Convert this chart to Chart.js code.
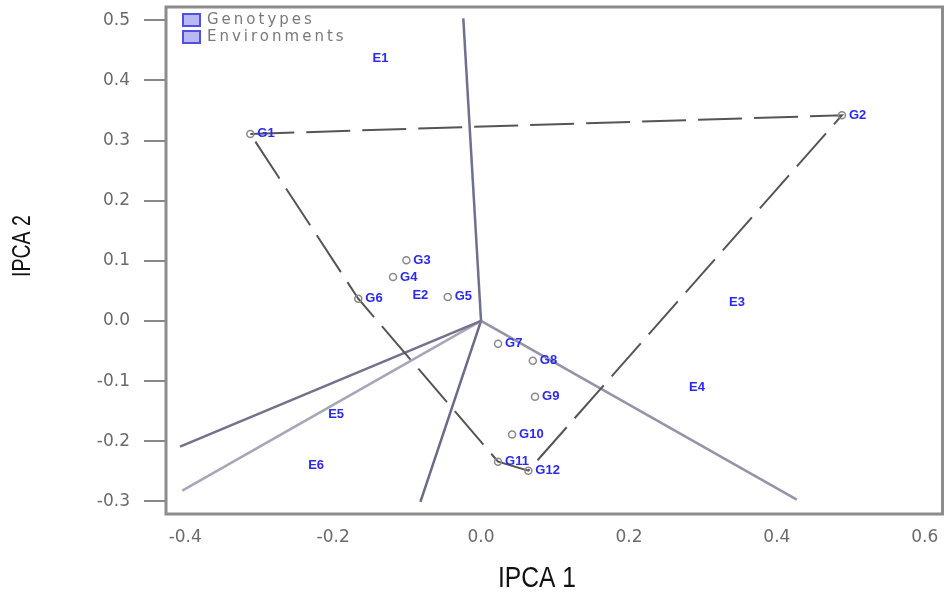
<!DOCTYPE html>
<html>
<head>
<meta charset="utf-8">
<script src="https://cdn.jsdelivr.net/npm/chart.js@4.4.1/dist/chart.umd.min.js"></script>
<style>
    html, body { margin: 0; padding: 0; background: #fff; }
</style>
</head>
<body>
<canvas id="chartOne" width="948" height="598"></canvas>
<script>
// genotype scores (IPCA 1, IPCA 2)
const genoNames = ['G1', 'G2', 'G3', 'G4', 'G5', 'G6', 'G7', 'G8', 'G9', 'G10', 'G11', 'G12'];
const genoX = [-0.312, 0.488, -0.101, -0.119, -0.045, -0.166, 0.023, 0.070, 0.073, 0.042, 0.023, 0.064];
const genoY = [0.311, 0.342, 0.101, 0.073, 0.040, 0.037, -0.038, -0.066, -0.126, -0.189, -0.234, -0.249];

// environment scores
const envNames = ['E1', 'E2', 'E3', 'E4', 'E5', 'E6'];
const envX = [-0.136, -0.082, 0.346, 0.292, -0.196, -0.223];
const envY = [0.437, 0.042, 0.030, -0.110, -0.156, -0.241];

// polygon = genotypes on the hull, in drawing order
const hullIdx = [0, 1, 11, 10, 5, 0];

// rays from the origin, one per polygon side
const rayX = [-0.024, -0.407, -0.404, -0.082, 0.427];
const rayY = [0.503, -0.209, -0.282, -0.301, -0.297];

const xTicks = [-0.4, -0.2, 0.0, 0.2, 0.4, 0.6];
const yTicks = [-0.3, -0.2, -0.1, 0.0, 0.1, 0.2, 0.3, 0.4, 0.5];

const legendNames = ['Genotypes', 'Environments'];
const xTitle = 'IPCA 1';
const yTitle = 'IPCA 2';

const rayColors = ['#6f6f8f', '#72728e', '#a6a6b6', '#6a6a8a', '#9494a8'];
const blue = '#2a2aee';

function pts(xs, ys) {
    return xs.map((x, i) => ({x: x, y: ys[i]}));
}

const rayData = rayX.map((x, i) => ({
    type: 'line',
    label: 'ray' + (i + 1),
    data: [{x: 0, y: 0}, {x: x, y: rayY[i]}],
    borderColor: rayColors[i],
    borderWidth: 2.5,
    pointRadius: 0,
    showLine: true,
    fill: false
}));

// draws the plot frame
const framePlugin = {
    id: 'frame',
    beforeDatasetsDraw(chart) {
        const a = chart.chartArea;
        const ctx = chart.ctx;
        ctx.save();
        ctx.strokeStyle = '#8c8c8c';
        ctx.lineWidth = 3;
        ctx.strokeRect(a.left, a.top, a.right - a.left, a.bottom - a.top);
        ctx.restore();
    }
};

// point labels, legend box and the (narrow) axis titles
const labelPlugin = {
    id: 'labels',
    afterDatasetsDraw(chart) {
        const ctx = chart.ctx;
        ctx.save();
        ctx.fillStyle = blue;
        ctx.font = 'bold 13px "Liberation Sans", Arial, sans-serif';
        ctx.textBaseline = 'middle';

        ctx.textAlign = 'left';
        chart.getDatasetMeta(0).data.forEach((p, i) => {
            ctx.fillText(genoNames[i], p.x + 7, p.y);
        });
        ctx.textAlign = 'center';
        chart.getDatasetMeta(1).data.forEach((p, i) => {
            ctx.fillText(envNames[i], p.x, p.y);
        });

        // legend
        const a = chart.chartArea;
        legendNames.forEach((name, i) => {
            const y = a.top + 13 + i * 17;
            ctx.fillStyle = '#b8b8f4';
            ctx.fillRect(a.left + 17, y - 6, 17, 12);
            ctx.strokeStyle = '#5050e0';
            ctx.lineWidth = 2;
            ctx.strokeRect(a.left + 17, y - 6, 17, 12);
            ctx.fillStyle = '#7a7a7a';
            ctx.font = '15px "DejaVu Sans", sans-serif';
            ctx.textAlign = 'left';
            ctx.letterSpacing = '3px';
            ctx.fillText(name, a.left + 41, y);
            ctx.letterSpacing = '0px';
        });
        ctx.restore();
    },
    afterDraw(chart) {
        const ctx = chart.ctx;
        ctx.save();
        ctx.fillStyle = '#111';
        ctx.textAlign = 'center';
        ctx.textBaseline = 'middle';
        ctx.font = '30px "Liberation Sans", Arial, sans-serif';
        ctx.translate(537, 579);
        ctx.scale(0.82, 1);
        ctx.fillText(xTitle, 0, 0);
        ctx.restore();

        ctx.save();
        ctx.fillStyle = '#111';
        ctx.textAlign = 'center';
        ctx.textBaseline = 'middle';
        ctx.font = '25px "Liberation Sans", Arial, sans-serif';
        ctx.translate(23, 246);
        ctx.rotate(-Math.PI / 2);
        ctx.scale(0.78, 1);
        ctx.fillText(yTitle, 0, 0);
        ctx.restore();
    }
};

function getChartOne() {
    const ctxOne = document.getElementById('chartOne').getContext('2d');
    return new Chart(ctxOne, {
        type: 'scatter',
        data: {
            datasets: [
                {
                    label: legendNames[0],
                    data: pts(genoX, genoY),
                    pointStyle: 'circle',
                    pointRadius: 3.5,
                    borderColor: '#8a8a8a',
                    borderWidth: 1.5,
                    backgroundColor: 'rgba(0,0,0,0)'
                },
                {
                    label: legendNames[1],
                    data: pts(envX, envY),
                    pointRadius: 0
                },
                {
                    type: 'line',
                    label: 'polygon',
                    data: hullIdx.map(i => ({x: genoX[i], y: genoY[i]})),
                    borderColor: '#555555',
                    borderWidth: 2,
                    borderDash: [44, 12],
                    pointRadius: 0,
                    showLine: true,
                    fill: false
                }
            ].concat(rayData)
        },
        options: {
            responsive: false,
            animation: false,
            layout: {
                padding: {left: 0, top: 7, right: 5, bottom: 0}
            },
            plugins: {
                legend: {display: false},
                tooltip: {enabled: false}
            },
            scales: {
                x: {
                    type: 'linear',
                    min: -0.426,
                    max: 0.624,
                    afterBuildTicks: s => { s.ticks = xTicks.map(v => ({value: v})); },
                    afterFit: s => { s.height = 84; s.paddingLeft = 0; s.paddingRight = 0; },
                    grid: {display: false, drawTicks: false},
                    border: {display: false},
                    ticks: {
                        padding: 13,
                        color: '#6a6a6a',
                        font: {family: 'DejaVu Sans', size: 17},
                        callback: v => v.toFixed(1)
                    },
                    title: {display: false}
                },
                y: {
                    type: 'linear',
                    min: -0.321,
                    max: 0.522,
                    afterBuildTicks: s => { s.ticks = yTicks.map(v => ({value: v})); },
                    afterFit: s => { s.width = 166; s.paddingTop = 0; s.paddingBottom = 0; },
                    grid: {
                        display: true,
                        drawOnChartArea: false,
                        drawTicks: true,
                        tickLength: 22,
                        color: '#888',
                        lineWidth: 2
                    },
                    border: {display: false},
                    ticks: {
                        padding: 14,
                        color: '#6a6a6a',
                        font: {family: 'DejaVu Sans', size: 17},
                        callback: v => v.toFixed(1)
                    },
                    title: {display: false}
                }
            }
        },
        plugins: [framePlugin, labelPlugin]
    });
}

getChartOne();
</script>
</body>
</html>
